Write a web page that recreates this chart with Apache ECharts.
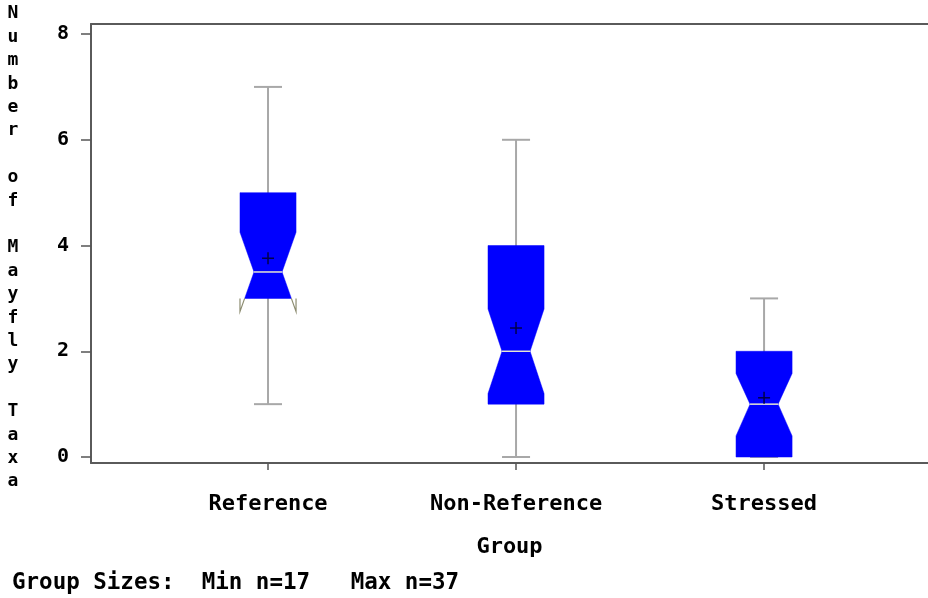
<!DOCTYPE html>
<html>
<head>
<meta charset="utf-8">
<script src="https://cdn.jsdelivr.net/npm/echarts@6/dist/echarts.min.js"></script>
<style>
html,body{margin:0;padding:0;background:#fff;}
#chart{width:928px;height:598px;}
</style>
</head>
<body>
<div id="chart"></div>
<script>
// ---- data ----
const categories = ['Reference', 'Non-Reference', 'Stressed'];
const whiskerLow  = [1, 0, 0];
const q1          = [3, 1, 0];
const median      = [3.5, 2, 1];
const q3          = [5, 4, 2];
const whiskerHigh = [7, 6, 3];
const notchLow    = [2.75, 1.2, 0.4];
const notchHigh   = [4.25, 2.8, 1.58];
const means       = [3.76, 2.44, 1.12];
const yTicks      = [0, 2, 4, 6, 8];
const xTicks      = [1, 2, 3];
const yTitle      = 'Number of Mayfly Taxa';
const xTitle      = 'Group';
const footnote    = 'Group Sizes:  Min n=17   Max n=37';

// ---- build ----
const boxData = categories.map((c, i) => [i + 1, whiskerLow[i], q1[i], median[i], q3[i], whiskerHigh[i], notchLow[i], notchHigh[i], means[i]]);

const FONT = '"DejaVu Sans Mono", monospace';
const BOX_W = 0.226; // in x-axis units
const X_MIN = 0.2863, X_MAX = 3.661;
const FRAME = {color: '#5a5a5a', width: 2};

function renderItem(params, api) {
  const xv = api.value(0);
  const y = v => api.coord([xv, v])[1];
  const cx = api.coord([xv, 0])[0];
  const h = api.size([BOX_W, 0])[0] / 2;
  const ind = h / 2;
  const capH = h / 2;
  const vLo = api.value(1), vQ1 = api.value(2), vMed = api.value(3), vQ3 = api.value(4), vHi = api.value(5);
  const vNL = api.value(6), vNH = api.value(7), vMean = api.value(8);
  const yLo = y(vLo), yQ1 = y(vQ1), yMed = y(vMed), yQ3 = y(vQ3), yHi = y(vHi), yNL = y(vNL), yNH = y(vNH), yMean = y(vMean);
  const L = cx - h, R = cx + h;
  const whiskColor = '#a8a8a8';
  const children = [];
  children.push({type: 'line', shape: {x1: cx, y1: yHi, x2: cx, y2: yLo}, style: {stroke: whiskColor, lineWidth: 2}});
  children.push({type: 'line', shape: {x1: cx - capH, y1: yHi, x2: cx + capH, y2: yHi}, style: {stroke: whiskColor, lineWidth: 2}});
  children.push({type: 'line', shape: {x1: cx - capH, y1: yLo, x2: cx + capH, y2: yLo}, style: {stroke: whiskColor, lineWidth: 2}});
  const pts = [];
  pts.push([L, yQ3], [R, yQ3]);
  const ears = [];
  if (vNH > vQ3) {
    const t = (vQ3 - vMed) / (vNH - vMed);
    pts.push([R - ind + ind * t, yQ3]);
  } else {
    pts.push([R, yNH]);
  }
  pts.push([R - ind, yMed]);
  let xcR = R;
  if (vNL < vQ1) {
    const t = (vQ1 - vMed) / (vNL - vMed);
    xcR = R - ind + ind * t;
    pts.push([xcR, yQ1]);
    ears.push([[xcR, yQ1], [R, yNL], [R, yQ1]]);
    ears.push([[2 * cx - xcR, yQ1], [L, yNL], [L, yQ1]]);
    pts.push([2 * cx - xcR, yQ1]);
  } else {
    pts.push([R, yNL], [R, yQ1], [L, yQ1], [L, yNL]);
  }
  pts.push([L + ind, yMed]);
  if (vNH > vQ3) {
    const t = (vQ3 - vMed) / (vNH - vMed);
    pts.push([L + ind - ind * t, yQ3]);
  } else {
    pts.push([L, yNH]);
  }
  children.push({type: 'polygon', shape: {points: pts}, style: {fill: '#0000ff', stroke: '#0000ff', lineWidth: 0.5}});
  ears.forEach(e => children.push({type: 'polyline', shape: {points: e}, style: {stroke: '#8c8c70', lineWidth: 1.2, fill: null}}));
  children.push({type: 'line', shape: {x1: L + ind, y1: yMed, x2: R - ind, y2: yMed}, style: {stroke: '#e6e6d2', lineWidth: 1.5}});
  const m = 6;
  children.push({type: 'line', shape: {x1: cx - m, y1: yMean, x2: cx + m, y2: yMean}, style: {stroke: '#00004a', lineWidth: 1.5}});
  children.push({type: 'line', shape: {x1: cx, y1: yMean - m, x2: cx, y2: yMean + m}, style: {stroke: '#00004a', lineWidth: 1.5}});
  return {type: 'group', children};
}

const chart = echarts.init(document.getElementById('chart'), null, {renderer: 'canvas'});
chart.setOption({
  animation: false,
  backgroundColor: '#ffffff',
  grid: {left: 91, top: 24, right: 0, bottom: 135, show: false},
  xAxis: [{
    type: 'value', min: X_MIN, max: X_MAX, position: 'bottom',
    axisLine: {show: true, onZero: false, lineStyle: FRAME},
    splitLine: {show: false},
    axisTick: {show: true, customValues: xTicks, length: 7, lineStyle: {color: '#555', width: 1.5}},
    axisLabel: {customValues: xTicks, formatter: v => categories[Math.round(v) - 1] || '', margin: 30,
      fontFamily: FONT, fontWeight: 'bold', fontSize: 22, color: '#000'},
    name: xTitle, nameLocation: 'middle', nameGap: 73,
    nameTextStyle: {fontFamily: FONT, fontWeight: 'bold', fontSize: 22, color: '#000'}
  }, {
    type: 'value', min: X_MIN, max: X_MAX, position: 'top',
    axisLine: {show: true, onZero: false, lineStyle: FRAME},
    splitLine: {show: false}, axisTick: {show: false}, axisLabel: {show: false}
  }],
  yAxis: {
    type: 'value', min: -0.113, max: 8.19,
    axisLine: {show: true, onZero: false, lineStyle: FRAME},
    splitLine: {show: false},
    axisTick: {show: true, customValues: yTicks, length: 10, lineStyle: {color: '#555', width: 1.5}},
    axisLabel: {customValues: yTicks, margin: 22, fontFamily: FONT, fontWeight: 'bold', fontSize: 20, color: '#000'}
  },
  graphic: [
    {type: 'text', x: 13, y: 2, style: {text: yTitle.split('').join('\n'), align: 'center', verticalAlign: 'top',
      fontFamily: FONT, fontWeight: 'bold', fontSize: 18, lineHeight: 23.4, fill: '#000'}},
    {type: 'text', x: 12, y: 583, style: {text: footnote, align: 'left', verticalAlign: 'middle',
      fontFamily: FONT, fontWeight: 'bold', fontSize: 22.5, fill: '#000'}}
  ],
  series: [{
    type: 'custom',
    xAxisIndex: 0,
    renderItem: renderItem,
    encode: {x: 0, y: [1, 2, 3, 4, 5]},
    data: boxData,
    clip: false
  }]
});
</script>
</body>
</html>
